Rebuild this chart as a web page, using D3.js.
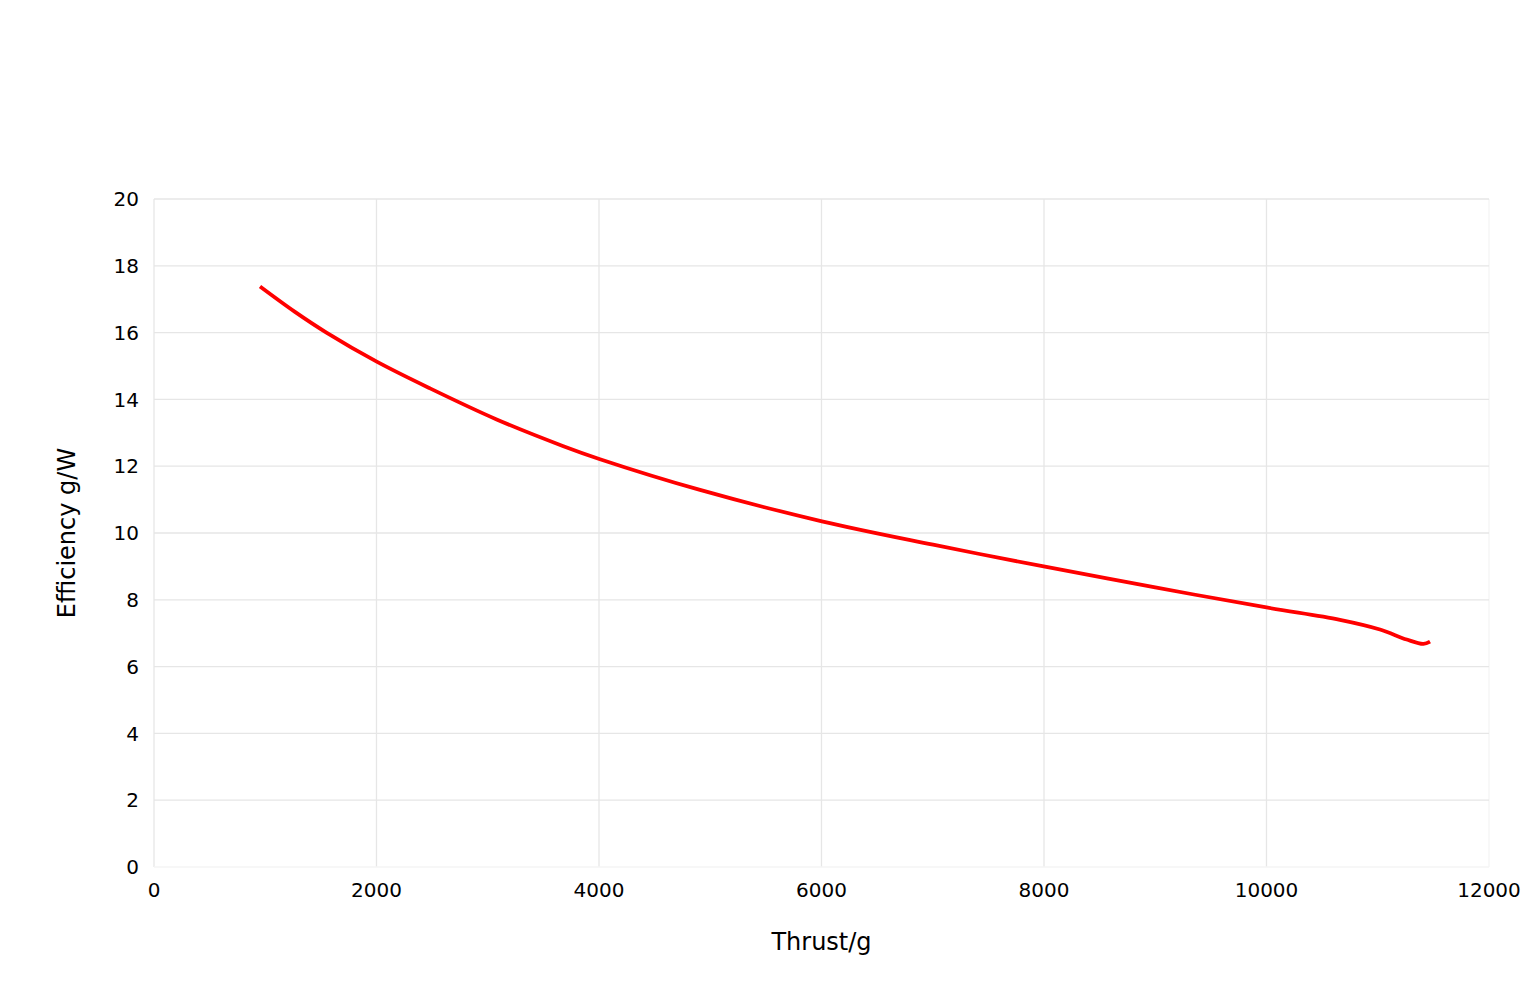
<!DOCTYPE html>
<html>
<head>
<meta charset="utf-8">
<script src="https://cdn.jsdelivr.net/npm/d3@7"></script>
<style>
  body { margin: 0; background: #fff; }
  svg { font-family: "DejaVu Sans", sans-serif; }
</style>
</head>
<body>
<div id="chart"></div>
<script>
// thrust (g) and efficiency (g/W)
var thrust = [953, 1267, 1550, 2002, 2481, 3080, 3680, 4009, 4908, 6004, 7003, 8009, 9000, 10000, 10660, 11020, 11260, 11410, 11470];
var efficiency = [17.38, 16.62, 16.0, 15.13, 14.33, 13.4, 12.6, 12.21, 11.29, 10.35, 9.65, 8.99, 8.37, 7.77, 7.4, 7.11, 6.81, 6.68, 6.75];
var xTicks = [0, 2000, 4000, 6000, 8000, 10000, 12000];
var yTicks = [0, 2, 4, 6, 8, 10, 12, 14, 16, 18, 20];

var width = 1536;
var height = 997;
var margin = { top: 199, right: 47, bottom: 130, left: 154 };

var svg = d3.select("#chart")
    .append("svg")
    .attr("width", width)
    .attr("height", height);

var x = d3.scaleLinear().domain([0, 12000]).range([margin.left, width - margin.right]);
var y = d3.scaleLinear().domain([0, 20]).range([height - margin.bottom, margin.top]);

// grid
svg.append("g").selectAll("line")
    .data(xTicks)
    .enter()
    .append("line")
    .attr("x1", d => x(d)).attr("x2", d => x(d))
    .attr("y1", y(0)).attr("y2", y(20))
    .attr("stroke", d => d === 12000 ? "#f4f4f4" : "#e6e6e6")
    .attr("stroke-width", 1.3);

svg.append("g").selectAll("line")
    .data(yTicks)
    .enter()
    .append("line")
    .attr("x1", x(0)).attr("x2", x(12000))
    .attr("y1", d => y(d)).attr("y2", d => y(d))
    .attr("stroke", d => d === 0 ? "#f4f4f4" : "#e6e6e6")
    .attr("stroke-width", 1.3);

// tick labels
svg.append("g").selectAll("text")
    .data(xTicks)
    .enter()
    .append("text")
    .attr("x", d => x(d))
    .attr("y", y(0) + 30)
    .attr("text-anchor", "middle")
    .attr("font-size", "20px")
    .attr("fill", "#000")
    .text(d => d);

svg.append("g").selectAll("text")
    .data(yTicks)
    .enter()
    .append("text")
    .attr("x", x(0) - 15)
    .attr("y", d => y(d))
    .attr("dy", "0.36em")
    .attr("text-anchor", "end")
    .attr("font-size", "20px")
    .attr("fill", "#000")
    .text(d => d);

// axis titles
svg.append("text")
    .attr("x", (x(0) + x(12000)) / 2)
    .attr("y", 950)
    .attr("text-anchor", "middle")
    .attr("font-size", "24px")
    .attr("fill", "#000")
    .text("Thrust/g");

svg.append("text")
    .attr("transform", "translate(75," + (y(0) + y(20)) / 2 + ") rotate(-90)")
    .attr("text-anchor", "middle")
    .attr("font-size", "24px")
    .attr("fill", "#000")
    .text("Efficiency g/W");

// curve
var points = thrust.map((t, i) => [t, efficiency[i]]);
var line = d3.line()
    .x(d => x(d[0]))
    .y(d => y(d[1]))
    .curve(d3.curveCatmullRom.alpha(0.5));

svg.append("path")
    .datum(points)
    .attr("d", line)
    .attr("fill", "none")
    .attr("stroke", "#ff0000")
    .attr("stroke-width", 3.8);
</script>
</body>
</html>
